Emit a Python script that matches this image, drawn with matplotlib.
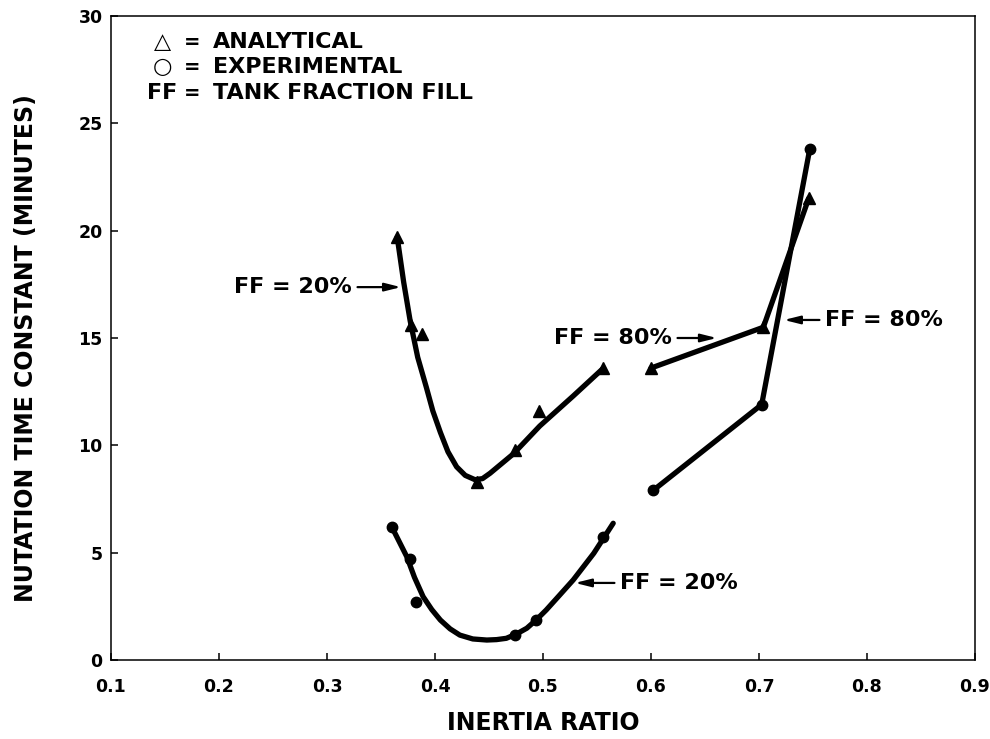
import matplotlib
matplotlib.use("Agg")
import matplotlib.pyplot as plt

plt.rcParams['font.family'] = ['DejaVu Sans']
plt.rcParams['font.weight'] = 'bold'

# ---- data ----
# Analytical, FF = 20% (markers)
ana20_x = [0.365, 0.378, 0.388, 0.439, 0.474, 0.496, 0.556]
ana20_y = [19.7, 15.6, 15.2, 8.3, 9.8, 11.6, 13.6]
# Analytical, FF = 20% (traced faired curve)
ana20_curve_x = [0.365, 0.371, 0.377, 0.384, 0.392, 0.398, 0.405, 0.412, 0.420,
                 0.428, 0.437, 0.444, 0.451, 0.4725, 0.497, 0.528, 0.556]
ana20_curve_y = [19.7, 17.6, 15.8, 14.1, 12.7, 11.6, 10.6, 9.7, 9.0,
                 8.6, 8.4, 8.45, 8.7, 9.6, 10.9, 12.3, 13.6]

# Experimental, FF = 20% (markers)
exp20_x = [0.360, 0.377, 0.382, 0.474, 0.4935, 0.556]
exp20_y = [6.2, 4.7, 2.7, 1.15, 1.85, 5.75]
# Experimental, FF = 20% (traced faired curve)
exp20_curve_x = [0.360, 0.367, 0.374, 0.381, 0.389, 0.397, 0.405, 0.414, 0.423,
                 0.435, 0.448, 0.457, 0.466, 0.475, 0.485, 0.494, 0.503,
                 0.515, 0.528, 0.547, 0.565]
exp20_curve_y = [6.2, 5.5, 4.8, 3.85, 2.95, 2.35, 1.86, 1.45, 1.16,
                 0.98, 0.93, 0.95, 1.01, 1.2, 1.48, 1.88, 2.33,
                 3.0, 3.73, 4.97, 6.37]

# FF = 80%
ana80_x = [0.600, 0.704, 0.746]
ana80_y = [13.6, 15.5, 21.5]
exp80_x = [0.602, 0.7025, 0.747]
exp80_y = [7.9, 11.9, 23.8]

xticks = [0.1, 0.2, 0.3, 0.4, 0.5, 0.6, 0.7, 0.8, 0.9]
xticklabels = ['0.1', '0.2', '0.3', '0.4', '0.5', '0.6', '0.7', '0.8', '0.9']
yticks = [0, 5, 10, 15, 20, 25, 30]
yticklabels = ['0', '5', '10', '15', '20', '25', '30']

# annotations
ann_labels = ['FF = 20%', 'FF = 80%', 'FF = 80%', 'FF = 20%']
ann_text_x = [0.3231, 0.6194, 0.7611, 0.5713]
ann_text_y = [17.37, 15.0, 15.84, 3.59]
ann_tip_x = [0.3685, 0.661, 0.7231, 0.5296]
ann_tip_y = [17.37, 15.0, 15.84, 3.59]
ann_ha = ['right', 'right', 'left', 'left']

key_symbols = ['\u25b3', '\u25cb', 'FF']
key_texts = ['ANALYTICAL', 'EXPERIMENTAL', 'TANK FRACTION FILL']
key_y = [28.78, 27.62, 26.41]

# ---- figure ----
fig = plt.figure(figsize=(9.9, 7.39), dpi=100)
ax = fig.add_axes([111 / 990, 79 / 739, 864 / 990, 644 / 739])

lw = 3.8
ax.plot(ana20_curve_x, ana20_curve_y, color='black', lw=lw,
        solid_capstyle='round', solid_joinstyle='round')
ax.plot(ana20_x, ana20_y, linestyle='none', marker='^', ms=8, color='black')
ax.plot(exp20_curve_x, exp20_curve_y, color='black', lw=lw,
        solid_capstyle='round', solid_joinstyle='round')
ax.plot(exp20_x, exp20_y, linestyle='none', marker='o', ms=7.5, color='black')
ax.plot(ana80_x, ana80_y, color='black', lw=lw, marker='^', ms=8,
        solid_capstyle='round', solid_joinstyle='miter')
ax.plot(exp80_x, exp80_y, color='black', lw=lw, marker='o', ms=7.5,
        solid_capstyle='round', solid_joinstyle='round')

for lab, tx, ty, px, py, ha in zip(ann_labels, ann_text_x, ann_text_y,
                                   ann_tip_x, ann_tip_y, ann_ha):
    ax.annotate(lab, xy=(px, py), xytext=(tx, ty), ha=ha, va='center',
                fontsize=16, fontweight='bold',
                arrowprops=dict(arrowstyle='-|>,head_length=0.8,head_width=0.2',
                                color='black', lw=1.6, mutation_scale=12,
                                shrinkA=2, shrinkB=0))

for sym, txt, yy in zip(key_symbols, key_texts, key_y):
    ax.text(0.1475, yy, sym, ha='center', va='center', fontsize=16,
            fontweight='bold')
    ax.text(0.1755, yy, '=', ha='center', va='center', fontsize=14,
            fontweight='bold')
    ax.text(0.1944, yy, txt, ha='left', va='center', fontsize=16,
            fontweight='bold')

ax.set_xlim(0.1, 0.9)
ax.set_ylim(0, 30)
ax.set_xticks(xticks)
ax.set_xticklabels(xticklabels)
ax.set_yticks(yticks)
ax.set_yticklabels(yticklabels)
ax.tick_params(axis='x', direction='in', length=5, width=1.1, pad=13,
               labelsize=12.5)
ax.tick_params(axis='y', direction='in', length=5, width=1.1, pad=6,
               labelsize=12.5)
for lab in ax.get_xticklabels() + ax.get_yticklabels():
    lab.set_fontweight('bold')
for sp in ax.spines.values():
    sp.set_linewidth(1.1)

ax.set_xlabel('INERTIA RATIO', fontsize=17, fontweight='bold')
ax.xaxis.set_label_coords(0.5, -0.079)
ax.set_ylabel('NUTATION TIME CONSTANT (MINUTES)', fontsize=17,
              fontweight='bold')
ax.yaxis.set_label_coords(-0.085, 0.485)

fig.savefig('out.png', dpi=100)
